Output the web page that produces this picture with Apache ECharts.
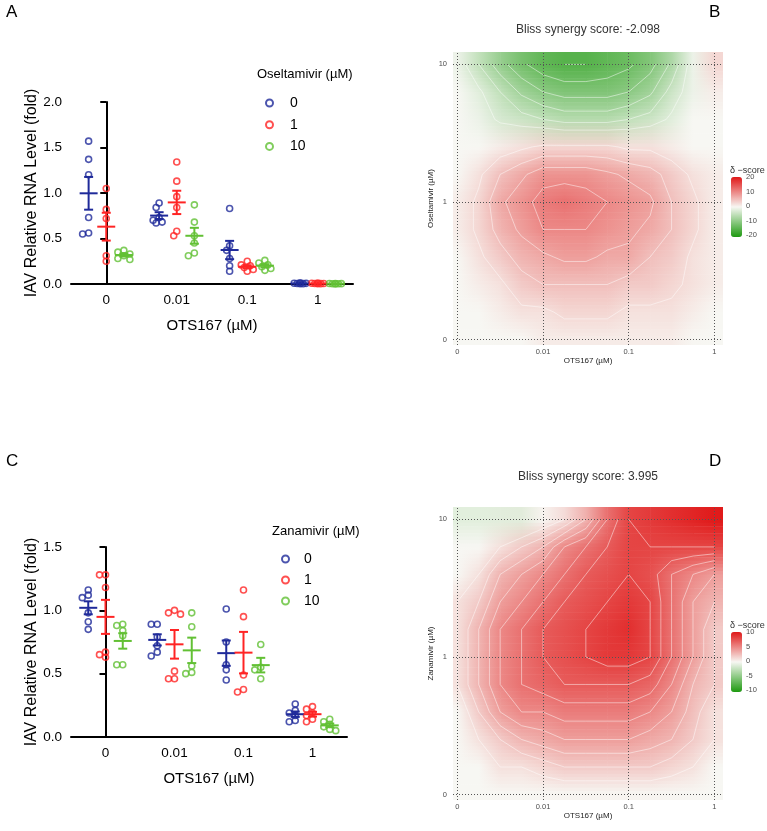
<!DOCTYPE html>
<html>
<head>
<meta charset="UTF-8">
<title>OTS167 + neuraminidase inhibitor</title>
<script src="https://cdn.jsdelivr.net/npm/echarts@6/dist/echarts.min.js"></script>
<style>
 html,body{margin:0;padding:0;background:#fff;}
 #main{width:767px;height:831px;}
</style>
</head>
<body>
<div id="main"></div>
<script type="text/javascript">
// tick labels
var otsLabels = ['0', '0.01', '0.1', '1'];
var drugLabels = ['0', '1', '10'];

// panel A: IAV relative RNA (fold), Oseltamivir 0 / 1 / 10 uM, one list per OTS167 dose
var oselt0 = [[1.57, 1.37, 1.20, 0.73, 0.56, 0.55], [0.89, 0.84, 0.73, 0.70, 0.68, 0.67], [0.83, 0.42, 0.37, 0.28, 0.20, 0.14], [0.012, 0.009, 0.007, 0.005, 0.004, 0.003]];
var oselt1 = [[1.05, 0.82, 0.72, 0.31, 0.25], [1.34, 1.13, 0.96, 0.84, 0.58, 0.53], [0.25, 0.21, 0.20, 0.18, 0.16, 0.14], [0.010, 0.008, 0.006, 0.005, 0.004, 0.002]];
var oselt10 = [[0.37, 0.35, 0.33, 0.31, 0.28, 0.27], [0.87, 0.68, 0.53, 0.45, 0.34, 0.31], [0.26, 0.23, 0.21, 0.19, 0.17, 0.15], [0.006, 0.005, 0.004, 0.003, 0.002, 0.001]];

// panel C: Zanamivir 0 / 1 / 10 uM
var zana0 = [[1.16, 1.12, 1.10, 0.98, 0.91, 0.85], [0.89, 0.89, 0.79, 0.72, 0.67, 0.64], [1.01, 0.75, 0.57, 0.53, 0.45], [0.26, 0.21, 0.19, 0.17, 0.13, 0.12]];
var zana1 = [[1.28, 1.28, 1.18, 0.67, 0.65, 0.63], [1.00, 0.98, 0.97, 0.52, 0.46, 0.46], [1.16, 0.95, 0.49, 0.375, 0.355], [0.24, 0.22, 0.19, 0.17, 0.14, 0.12]];
var zana10 = [[0.89, 0.88, 0.84, 0.80, 0.57, 0.57], [0.98, 0.87, 0.56, 0.51, 0.50], [0.73, 0.55, 0.53, 0.46], [0.14, 0.12, 0.10, 0.08, 0.06, 0.05]];

// synergy surfaces: sample points along dose index (x: OTS167, y: drug)
var surfX = [0, 0.25, 0.5, 0.75, 1, 1.25, 1.5, 1.75, 2, 2.25, 2.5, 2.75, 3];
var surfY = [2, 1.8, 1.6, 1.4, 1.2, 1, 0.8, 0.6, 0.4, 0.2, 0];   // top row first
var blissOselt = [
  [-1, -5, -9, -12, -14, -15, -15, -14, -13, -11, -7, -1, 3],
  [0, -2, -5, -8, -10, -11, -11, -11, -10, -8, -4, -1, 1],
  [0, -1, -3, -4, -5, -6, -6, -6, -5, -4, -2, 0, 0],
  [0, 0, 1, 2, 3, 3, 3, 3, 2, 2, 1, 0, 0],
  [0, 2, 5, 7, 9, 9, 9, 8, 7, 6, 4, 2, 1],
  [1, 3, 7, 9, 11, 12, 11, 10, 9, 8, 5, 3, 1],
  [1, 3, 6, 8, 10, 10, 10, 9, 8, 7, 5, 3, 1],
  [0, 2, 4, 6, 7, 8, 8, 7, 7, 5, 4, 2, 1],
  [0, 1, 2, 4, 5, 5, 5, 5, 4, 4, 3, 2, 1],
  [0, 0, 1, 2, 2, 3, 3, 3, 2, 2, 2, 1, 0],
  [0, 0, 0, 0, 1, 1, 1, 1, 1, 1, 1, 0, 0]
];
var blissZana = [
  [-1, -1, -1, -1, 0, 1, 3, 6, 8, 8.5, 9, 9.5, 10],
  [0, 0, 1, 2, 3, 5, 6, 7, 8, 8, 8, 8, 8],
  [0, 1, 3, 4, 5, 6, 7, 7.5, 8, 7.5, 6, 5, 4],
  [1, 2, 4, 5, 6, 7, 7.5, 8, 8.5, 8, 6, 4, 3],
  [1, 3, 5, 6, 7, 7.5, 8, 8.5, 9, 8, 6, 4, 2],
  [1, 3, 5, 6, 7, 7.5, 8, 8.5, 8.5, 8, 6, 4, 2],
  [1, 3, 5, 6, 6.5, 7, 7, 7, 7, 6.5, 5, 3, 2],
  [0, 2, 4, 5, 5, 5.5, 5.5, 5.5, 5.5, 5, 4, 2.5, 1],
  [0, 1, 2, 3, 3.5, 4, 4, 4, 4, 3.5, 3, 2, 1],
  [0, 0, 1, 1, 1.5, 2, 2, 2, 2, 2, 1.5, 1, 0],
  [0, 0, 0, 0, 0, 0, 0, 0, 0, 0, 0, 0, 0]
];
var contourB = [-15, -12.5, -10, -7.5, -5, -2.5, 2.5, 5, 7.5, 10];
var contourD = [1, 2, 3, 4, 5, 6, 7, 8];
var scoreTicksB = [20, 10, 0, -10, -20];
var scoreTicksD = [10, 5, 0, -5, -10];

var drugColors = ['#1f2a9a', '#ff2424', '#62c034'];
var mapColors = ['#1e9a10', '#f7f7f3', '#e01818'];
var FONT = '"Liberation Sans", Arial, sans-serif';

// plot boxes (px)
var gA = {left: 71, top: 102, width: 282, height: 182};
var gC = {left: 71, top: 547, width: 276, height: 190};
var gB = {left: 453, top: 52, width: 270, height: 293};
var gD = {left: 453, top: 507, width: 270, height: 293};

function mean(a) { var s = 0; a.forEach(function (v) { s += v; }); return s / a.length; }
function sem(a) {
  var m = mean(a), s = 0;
  a.forEach(function (v) { s += (v - m) * (v - m); });
  return Math.sqrt(s / (a.length - 1)) / Math.sqrt(a.length);
}

// simple beeswarm spread (px) so overlapping dots sit side by side
function swarm(vals, pxX, pxY) {
  var placed = [], out = [];
  vals.forEach(function (v) {
    var py = v * pxY, best = 0, bestD = -1, ks = [0, -1, 1, -2, 2];
    for (var j = 0; j < ks.length; j++) {
      var px = ks[j] * 3, dmin = Infinity;
      placed.forEach(function (p) { dmin = Math.min(dmin, Math.hypot(p[0] - px, p[1] - py)); });
      if (dmin >= 5) { best = px; bestD = dmin; break; }
      if (dmin > bestD) { bestD = dmin; best = px; }
    }
    placed.push([best, py]);
    out.push(best / pxX);
  });
  return out;
}

function dotData(groups, k, g, yMax) {
  var pxX = g.width / otsLabels.length, pxY = g.height / yMax, d = [];
  groups.forEach(function (vals, i) {
    var dx = swarm(vals, pxX, pxY);
    vals.forEach(function (v, j) { d.push([i + (k - 1) * 0.25 + dx[j], v]); });
  });
  return d;
}
function errData(sets) {
  var d = [];
  sets.forEach(function (groups, k) {
    groups.forEach(function (vals, i) { d.push([i + (k - 1) * 0.25, mean(vals), sem(vals), k]); });
  });
  return d;
}
function renderErr(params, api) {
  var x = api.value(0), m = api.value(1), s = api.value(2), k = api.value(3);
  var c = api.coord([x, m]), t = api.coord([x, m + s]), b = api.coord([x, m - s]);
  var st = {stroke: drugColors[k], lineWidth: 2};
  return {type: 'group', children: [
    {type: 'line', shape: {x1: c[0], y1: t[1], x2: c[0], y2: b[1]}, style: st},
    {type: 'line', shape: {x1: c[0] - 9, y1: c[1], x2: c[0] + 9, y2: c[1]}, style: st},
    {type: 'line', shape: {x1: c[0] - 4.5, y1: t[1], x2: c[0] + 4.5, y2: t[1]}, style: st},
    {type: 'line', shape: {x1: c[0] - 4.5, y1: b[1], x2: c[0] + 4.5, y2: b[1]}, style: st}
  ]};
}

function surfData(rows) {
  var d = [];
  rows.forEach(function (row, r) {
    row.forEach(function (v, c) { d.push([surfX[c], surfY[r], v]); });
  });
  return d;
}

// each sample point draws the patch to its lower right, shaded between the
// four corner colours that visualMap assigned, plus white contour segments
function makeSurf(rows, levels) {
  var nc = surfX.length, nr = surfY.length;
  return function (params, api) {
    var i = params.dataIndex, r = Math.floor(i / nc), c = i % nc;
    if (r >= nr - 1 || c >= nc - 1) return {type: 'group', children: []};
    var x0 = surfX[c], x1 = surfX[c + 1], yT = surfY[r], yB = surfY[r + 1];
    var pTL = api.coord([x0, yT]), pBR = api.coord([x1, yB]);
    var pa = api.coord([c === 0 ? x0 - 0.2 : x0, r === 0 ? yT + 0.2 : yT]);
    var pb = api.coord([c === nc - 2 ? x1 + 0.2 : x1, r === nr - 2 ? yB - 0.2 : yB]);
    var cTL = api.visual('color', i), cTR = api.visual('color', i + 1);
    var cBL = api.visual('color', i + nc), cBR = api.visual('color', i + nc + 1);
    var kids = [], n = 8, h = (pBR[1] - pTL[1]) / n;
    for (var j = 0; j < n; j++) {
      var t = (j + 0.5) / n;
      var top = j === 0 ? pa[1] : pTL[1] + j * h;
      var bot = j === n - 1 ? pb[1] : pTL[1] + (j + 1) * h;
      kids.push({type: 'rect', shape: {x: pa[0], y: top, width: pb[0] - pa[0] + 0.6, height: bot - top + 0.6},
        style: {fill: {type: 'linear', x: pTL[0], y: 0, x2: pBR[0], y2: 0, global: true, colorStops: [
          {offset: 0, color: echarts.color.lerp(t, [cTL, cBL])},
          {offset: 1, color: echarts.color.lerp(t, [cTR, cBR])}]}}});
    }
    var vTL = rows[r][c], vTR = rows[r][c + 1], vBL = rows[r + 1][c], vBR = rows[r + 1][c + 1];
    levels.forEach(function (L) {
      var pts = [];
      function cross(a, b, p, q) {
        if ((a > L) !== (b > L)) {
          var f = (L - a) / (b - a);
          pts.push(api.coord([p[0] + f * (q[0] - p[0]), p[1] + f * (q[1] - p[1])]));
        }
      }
      cross(vTL, vTR, [x0, yT], [x1, yT]);
      cross(vTR, vBR, [x1, yT], [x1, yB]);
      cross(vBR, vBL, [x1, yB], [x0, yB]);
      cross(vBL, vTL, [x0, yB], [x0, yT]);
      for (var s = 0; s + 1 < pts.length; s += 2) {
        kids.push({type: 'line', z2: 5, shape: {x1: pts[s][0], y1: pts[s][1], x2: pts[s + 1][0], y2: pts[s + 1][1]},
          style: {stroke: 'rgba(255,255,255,0.6)', lineWidth: 0.8}});
      }
    });
    return {type: 'group', children: kids};
  };
}

var blackAxis = {lineStyle: {color: '#000', width: 2}};
function dotX(gi, name) {
  return {gridIndex: gi, type: 'category', data: otsLabels, boundaryGap: true,
    axisLine: blackAxis, axisTick: {alignWithLabel: true, length: 6, lineStyle: {color: '#000', width: 2}},
    axisLabel: {fontSize: 13.5, color: '#000', margin: 9, fontFamily: FONT},
    name: name, nameLocation: 'middle', nameGap: 34, nameTextStyle: {fontSize: 15, color: '#000', fontFamily: FONT}};
}
function dotY(gi, max) {
  return {gridIndex: gi, type: 'value', min: 0, max: max, interval: 0.5,
    axisLine: {show: true, lineStyle: {color: '#000', width: 2}},
    axisTick: {show: true, length: 6, lineStyle: {color: '#000', width: 2}},
    axisLabel: {fontSize: 13.5, color: '#000', margin: 9, fontFamily: FONT, formatter: function (v) { return v.toFixed(1); }},
    splitLine: {show: false},
    name: 'IAV Relative RNA Level (fold)', nameLocation: 'middle', nameGap: 30,
    nameTextStyle: {fontSize: 16, color: '#000', fontFamily: FONT}};
}
function mapX(gi) {
  return {gridIndex: gi, type: 'value', min: -0.05, max: 3.1,
    axisLine: {show: false}, splitLine: {show: false},
    axisTick: {show: true, length: 4, customValues: [0, 1, 2, 3], lineStyle: {color: '#333'}},
    axisLabel: {customValues: [0, 1, 2, 3], fontSize: 7.5, color: '#4d4d4d', margin: 3, fontFamily: FONT,
      formatter: function (v) { return otsLabels[Math.round(v)]; }},
    name: 'OTS167 (µM)', nameLocation: 'middle', nameGap: 12, nameTextStyle: {fontSize: 8, color: '#222', fontFamily: FONT}};
}
function mapY(gi, name) {
  return {gridIndex: gi, type: 'value', min: -0.04, max: 2.09,
    axisLine: {show: false}, splitLine: {show: false},
    axisTick: {show: true, length: 4, customValues: [0, 1, 2], lineStyle: {color: '#333'}},
    axisLabel: {customValues: [0, 1, 2], fontSize: 7.5, color: '#4d4d4d', margin: 6, fontFamily: FONT,
      formatter: function (v) { return drugLabels[Math.round(v)]; }},
    name: name, nameLocation: 'middle', nameGap: 17, nameTextStyle: {fontSize: 8, color: '#222', fontFamily: FONT}};
}
var gridMarks = {silent: true, symbol: ['none', 'none'], label: {show: false},
  lineStyle: {color: '#555', type: [1, 2], width: 1},
  data: otsLabels.map(function (l, i) { return {xAxis: i}; }).concat(drugLabels.map(function (l, i) { return {yAxis: i}; }))};

function dotSeries(groups, k, xi, yi, g, yMax) {
  return {type: 'scatter', name: drugLabels[k], xAxisIndex: xi, yAxisIndex: yi, symbol: 'circle', symbolSize: 6,
    itemStyle: {color: 'rgba(255,255,255,0)', borderColor: drugColors[k], borderWidth: 1.6},
    data: dotData(groups, k, g, yMax)};
}
function legendFor(left, top, gap, pad) {
  return {data: drugLabels, orient: 'vertical', left: left, top: top, itemWidth: 7, itemHeight: 7, itemGap: gap,
    selectedMode: false, padding: 0,
    textStyle: {fontSize: 14, color: '#000', fontFamily: FONT, lineHeight: 14, padding: [0, 0, 0, pad]}};
}
function scaleLabels(ticks, top) {
  return ticks.map(function (t, i) {
    return {type: 'text', left: 746, top: top + i * 14.5 - 4,
      style: {text: String(t), fontSize: 7.5, fill: '#4d4d4d', fontFamily: FONT}};
  });
}
function txt(x, y, s, size, extra) {
  var st = {text: s, fontSize: size, fill: '#000', fontFamily: FONT};
  for (var k in extra) st[k] = extra[k];
  return {type: 'text', x: x, y: y, style: st};
}

var chart = echarts.init(document.getElementById('main'));
var option = {
  animation: false,
  backgroundColor: '#fff',
  grid: [gA, gC, gB, gD],
  xAxis: [
    dotX(0, 'OTS167 (µM)'), {gridIndex: 0, type: 'value', min: -0.5, max: 3.5, show: false},
    dotX(1, 'OTS167 (µM)'), {gridIndex: 1, type: 'value', min: -0.5, max: 3.5, show: false},
    mapX(2), mapX(3)
  ],
  yAxis: [dotY(0, 2), dotY(1, 1.5), mapY(2, 'Oseltamivir (µM)'), mapY(3, 'Zanamivir (µM)')],
  legend: [legendFor(265, 96, 7.7, 12), legendFor(281, 552, 7, 10)],
  visualMap: [
    {type: 'continuous', seriesIndex: 8, dimension: 2, min: -20, max: 20, calculable: false,
      left: 731, top: 177, itemWidth: 11, itemHeight: 60, padding: 0, text: null, showLabel: false,
      inRange: {color: mapColors}},
    {type: 'continuous', seriesIndex: 9, dimension: 2, min: -10, max: 10, calculable: false,
      left: 731, top: 632, itemWidth: 11, itemHeight: 60, padding: 0, text: null, showLabel: false,
      inRange: {color: mapColors}}
  ],
  series: [
    dotSeries(oselt0, 0, 1, 0, gA, 2), dotSeries(oselt1, 1, 1, 0, gA, 2), dotSeries(oselt10, 2, 1, 0, gA, 2),
    {type: 'custom', name: 'semA', xAxisIndex: 1, yAxisIndex: 0, renderItem: renderErr, data: errData([oselt0, oselt1, oselt10]), z: 3},
    dotSeries(zana0, 0, 3, 1, gC, 1.5), dotSeries(zana1, 1, 3, 1, gC, 1.5), dotSeries(zana10, 2, 3, 1, gC, 1.5),
    {type: 'custom', name: 'semC', xAxisIndex: 3, yAxisIndex: 1, renderItem: renderErr, data: errData([zana0, zana1, zana10]), z: 3},
    {type: 'custom', name: 'blissB', xAxisIndex: 4, yAxisIndex: 2, renderItem: makeSurf(blissOselt, contourB), clip: true,
      encode: {x: 0, y: 1}, data: surfData(blissOselt), markLine: gridMarks},
    {type: 'custom', name: 'blissD', xAxisIndex: 5, yAxisIndex: 3, renderItem: makeSurf(blissZana, contourD), clip: true,
      encode: {x: 0, y: 1}, data: surfData(blissZana), markLine: gridMarks}
  ],
  graphic: [
    txt(6, 4, 'A', 17), txt(709, 4, 'B', 17), txt(6, 453, 'C', 17), txt(709, 453, 'D', 17),
    txt(257, 68, 'Oseltamivir (µM)', 13), txt(272, 525, 'Zanamivir (µM)', 13),
    txt(588, 24, 'Bliss synergy score: -2.098', 12, {textAlign: 'center', fill: '#333'}),
    txt(588, 471, 'Bliss synergy score: 3.995', 12, {textAlign: 'center', fill: '#333'}),
    txt(730, 166, 'δ −score', 9, {fill: '#333'}),
    txt(730, 621, 'δ −score', 9, {fill: '#333'})
  ].concat(scaleLabels(scoreTicksB, 177)).concat(scaleLabels(scoreTicksD, 632))
};
chart.setOption(option);
</script>
</body>
</html>
